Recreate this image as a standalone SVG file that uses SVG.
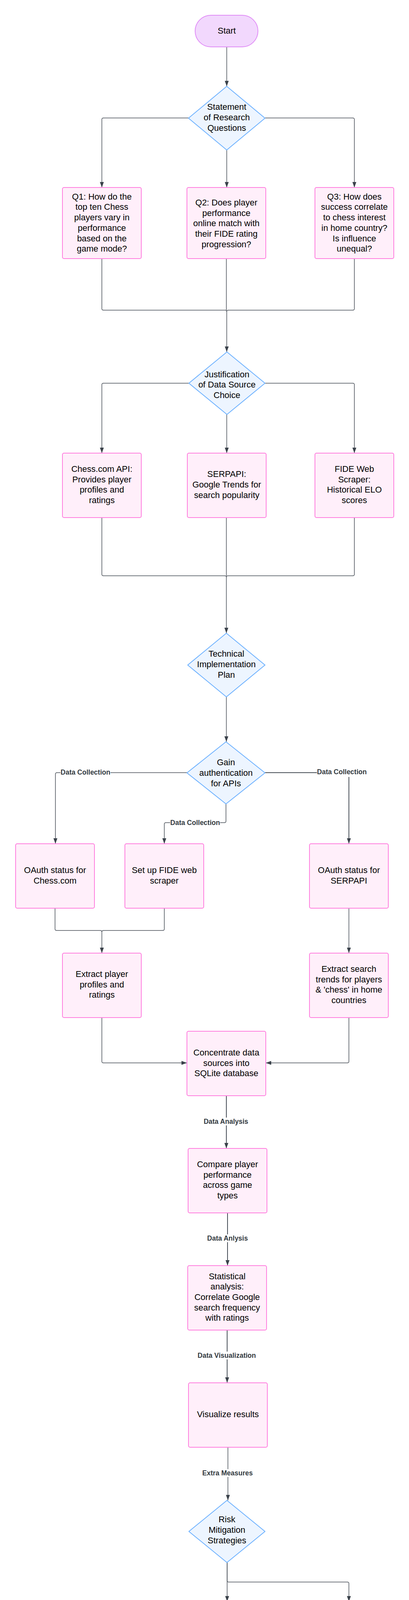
<svg xmlns="http://www.w3.org/2000/svg" width="1048" height="5169" viewBox="0 0 1048 5169">
<style>
.box{fill:#ffeffa;stroke:#ff80df;stroke-width:2}
.dia{fill:#edf5ff;stroke:#6cb1ff;stroke-width:2;stroke-linejoin:round}
.term{fill:#f2d8fd;stroke:#e08ef6;stroke-width:2}
.t{font-family:"Liberation Sans",Arial,sans-serif;font-size:22px;fill:#000;text-anchor:middle}
.c{fill:none;stroke:#474e57;stroke-width:1.5;stroke-linejoin:round}
.lb{font-family:"Liberation Sans",Arial,sans-serif;font-size:17.5px;font-weight:bold;fill:#333a40;text-anchor:middle}
.lbg{fill:#ffffff}
</style>
<defs>
<marker id="ah" viewBox="0 0 14 10" refX="14" refY="5" markerWidth="14" markerHeight="10" markerUnits="userSpaceOnUse" orient="auto">
<path d="M0,0 L14,5 L0,10 z" fill="#3a414a"/>
</marker>
</defs>
<rect width="1048" height="5169" fill="#ffffff"/>

<g id="connectors">
<path class="c" d="M581,120 V221" marker-end="url(#ah)"/>
<path class="c" d="M483,302 H265 Q261,302 261,306 V480" marker-end="url(#ah)"/>
<path class="c" d="M581,384 V480" marker-end="url(#ah)"/>
<path class="c" d="M679,302 H904 Q908,302 908,306 V480" marker-end="url(#ah)"/>
<path class="c" d="M261,662 V790 Q261,794 265,794 H577 Q581,794 581,798 V901" marker-end="url(#ah)"/>
<path class="c" d="M580,662 V794"/>
<path class="c" d="M908,662 V790 Q908,794 904,794 H585 Q581,794 581,798"/>
<path class="c" d="M484,981 H265 Q261,981 261,985 V1160" marker-end="url(#ah)"/>
<path class="c" d="M581,1061 V1160" marker-end="url(#ah)"/>
<path class="c" d="M679,981 H904 Q908,981 908,985 V1160" marker-end="url(#ah)"/>
<path class="c" d="M261,1325 V1470 Q261,1474 265,1474 H576 Q580,1474 580,1478 V1621" marker-end="url(#ah)"/>
<path class="c" d="M580,1325 V1474"/>
<path class="c" d="M908,1325 V1470 Q908,1474 904,1474 H584 Q580,1474 580,1478"/>
<path class="c" d="M580,1784 V1899" marker-end="url(#ah)"/>
<path class="c" d="M479,1978 H146 Q142,1978 142,1982 V2160" marker-end="url(#ah)"/>
<path class="c" d="M579,2058 V2102 Q579,2106 575,2106 H425 Q421,2106 421,2110 V2160" marker-end="url(#ah)"/>
<path class="c" d="M679,1978 H890 Q894,1978 894,1982 V2160" marker-end="url(#ah)" style="stroke-width:2"/>
<path class="c" d="M141,2325 V2378 Q141,2382 145,2382 H257 Q261,2382 261,2386 V2440" marker-end="url(#ah)"/>
<path class="c" d="M421,2325 V2378 Q421,2382 417,2382 H265 Q261,2382 261,2386"/>
<path class="c" d="M894,2325 V2440" marker-end="url(#ah)"/>
<path class="c" d="M261,2605 V2717 Q261,2721 265,2721 H479" marker-end="url(#ah)"/>
<path class="c" d="M894,2605 V2717 Q894,2721 890,2721 H681" marker-end="url(#ah)"/>
<path class="c" d="M580,2805 V2940" marker-end="url(#ah)" style="stroke-width:2"/>
<path class="c" d="M583,3105 V3240" marker-end="url(#ah)" style="stroke-width:2"/>
<path class="c" d="M582,3405 V3540" marker-end="url(#ah)" style="stroke-width:2"/>
<path class="c" d="M584,3705 V3841" marker-end="url(#ah)"/>
<path class="c" d="M582,4000 V4100" marker-end="url(#ah)"/>
<path class="c" d="M582,4000 V4046 Q582,4050 586,4050 H890 Q894,4050 894,4054 V4100" marker-end="url(#ah)"/>
<path class="c" d="M582,4265 V4460" marker-end="url(#ah)"/>
<path class="c" d="M894,4265 V4346 Q894,4350 890,4350 H586 Q582,4350 582,4354"/>
<path class="c" d="M582,4625 V4740" marker-end="url(#ah)"/>
<path class="c" d="M584,4905 V5019" marker-end="url(#ah)"/>

<rect class="lbg" x="155" y="1968" width="128" height="20"/>
<text class="lb" x="219" y="1983">Data Collection</text>
<rect class="lbg" x="436" y="2097" width="128" height="20"/>
<text class="lb" x="500" y="2112">Data Collection</text>
<rect class="lbg" x="812" y="1967" width="128" height="22"/>
<text class="lb" x="876" y="1982">Data Collection</text>
<rect class="lbg" x="521" y="2861" width="116" height="20"/>
<text class="lb" x="579" y="2877">Data Analysis</text>
<rect class="lbg" x="530" y="3160" width="106" height="20"/>
<text class="lb" x="583" y="3176">Data Anlysis</text>
<rect class="lbg" x="506" y="3460" width="151" height="20"/>
<text class="lb" x="581" y="3476">Data Visualization</text>
<rect class="lbg" x="518" y="3761" width="130" height="20"/>
<text class="lb" x="583" y="3777">Extra Measures</text>
</g>

<g id="start"><rect class="term" x="500" y="39" width="161" height="81" rx="40.5"/><text class="t" x="581" y="85.5">Start</text></g>

<g id="statement"><polygon class="dia" points="581,221 679,302.5 581,384 483,302.5"/>
<text class="t" x="581" y="281"><tspan x="581">Statement</tspan><tspan x="581" dy="26.8">of Research</tspan><tspan x="581" dy="26.8">Questions</tspan></text></g>

<g id="q1"><rect class="box" x="160" y="480" width="202" height="182" rx="4"/>
<text class="t" x="261" y="510.7"><tspan x="261">Q1: How do the</tspan><tspan x="261" dy="26.7">top ten Chess</tspan><tspan x="261" dy="26.7">players vary in</tspan><tspan x="261" dy="26.7">performance</tspan><tspan x="261" dy="26.7">based on the</tspan><tspan x="261" dy="26.7">game mode?</tspan></text></g>

<g id="q2"><rect class="box" x="479" y="480" width="202" height="182" rx="4"/>
<text class="t" x="580" y="525.9"><tspan x="580">Q2: Does player</tspan><tspan x="580" dy="26.7">performance</tspan><tspan x="580" dy="26.7">online match with</tspan><tspan x="580" dy="26.7">their FIDE rating</tspan><tspan x="580" dy="26.7">progression?</tspan></text></g>

<g id="q3"><rect class="box" x="807" y="480" width="202" height="182" rx="4"/>
<text class="t" x="908" y="510.7"><tspan x="908">Q3: How does</tspan><tspan x="908" dy="26.7">success correlate</tspan><tspan x="908" dy="26.7">to chess interest</tspan><tspan x="908" dy="26.7">in home country?</tspan><tspan x="908" dy="26.7">Is influence</tspan><tspan x="908" dy="26.7">unequal?</tspan></text></g>

<g id="justification"><polygon class="dia" points="581.5,901 679,981 581.5,1061 484,981"/>
<text class="t" x="581.5" y="965.6"><tspan x="581.5">Justification</tspan><tspan x="581.5" dy="26.7">of Data Source</tspan><tspan x="581.5" dy="26.7">Choice</tspan></text></g>

<g id="chesscom-api"><rect class="box" x="160" y="1160" width="202" height="165" rx="4"/>
<text class="t" x="261" y="1208"><tspan x="261">Chess.com API:</tspan><tspan x="261" dy="26.7">Provides player</tspan><tspan x="261" dy="26.7">profiles and</tspan><tspan x="261" dy="26.7">ratings</tspan></text></g>

<g id="serpapi"><rect class="box" x="480" y="1160" width="202" height="165" rx="4"/>
<text class="t" x="581" y="1221.4"><tspan x="581">SERPAPI:</tspan><tspan x="581" dy="26.7">Google Trends for</tspan><tspan x="581" dy="26.7">search popularity</tspan></text></g>

<g id="fide-scraper"><rect class="box" x="807" y="1160" width="202" height="165" rx="4"/>
<text class="t" x="908" y="1208"><tspan x="908">FIDE Web</tspan><tspan x="908" dy="26.7">Scraper:</tspan><tspan x="908" dy="26.7">Historical ELO</tspan><tspan x="908" dy="26.7">scores</tspan></text></g>

<g id="technical"><polygon class="dia" points="580,1621 679,1702.5 580,1784 481,1702.5"/>
<text class="t" x="580" y="1681"><tspan x="580">Technical</tspan><tspan x="580" dy="26.8">Implementation</tspan><tspan x="580" dy="26.8">Plan</tspan></text></g>

<g id="gain-auth"><polygon class="dia" points="579,1899 679,1978.5 579,2058 479,1978.5"/>
<text class="t" x="579" y="1959"><tspan x="579">Gain</tspan><tspan x="579" dy="26.8">authentication</tspan><tspan x="579" dy="26.8">for APIs</tspan></text></g>

<g id="oauth-chess"><rect class="box" x="40" y="2160" width="202" height="165" rx="4"/>
<text class="t" x="141" y="2234.8"><tspan x="141">OAuth status for</tspan><tspan x="141" dy="26.7">Chess.com</tspan></text></g>

<g id="setup-fide"><rect class="box" x="320" y="2160" width="202" height="165" rx="4"/>
<text class="t" x="421" y="2234.8"><tspan x="421">Set up FIDE web</tspan><tspan x="421" dy="26.7">scraper</tspan></text></g>

<g id="oauth-serp"><rect class="box" x="793" y="2160" width="202" height="165" rx="4"/>
<text class="t" x="894" y="2234.8"><tspan x="894">OAuth status for</tspan><tspan x="894" dy="26.7">SERPAPI</tspan></text></g>

<g id="extract-player"><rect class="box" x="160" y="2440" width="202" height="165" rx="4"/>
<text class="t" x="261" y="2501"><tspan x="261">Extract player</tspan><tspan x="261" dy="26.7">profiles and</tspan><tspan x="261" dy="26.7">ratings</tspan></text></g>

<g id="extract-search"><rect class="box" x="793" y="2440" width="202" height="165" rx="4"/>
<text class="t" x="894" y="2488"><tspan x="894">Extract search</tspan><tspan x="894" dy="26.7">trends for players</tspan><tspan x="894" dy="26.7">&amp; 'chess' in home</tspan><tspan x="894" dy="26.7">countries</tspan></text></g>

<g id="concentrate"><rect class="box" x="479" y="2640" width="202" height="165" rx="4"/>
<text class="t" x="580" y="2701.8"><tspan x="580">Concentrate data</tspan><tspan x="580" dy="26.7">sources into</tspan><tspan x="580" dy="26.7">SQLite database</tspan></text></g>

<g id="compare"><rect class="box" x="482" y="2940" width="202" height="165" rx="4"/>
<text class="t" x="583" y="2988"><tspan x="583">Compare player</tspan><tspan x="583" dy="26.7">performance</tspan><tspan x="583" dy="26.7">across game</tspan><tspan x="583" dy="26.7">types</tspan></text></g>

<g id="statistical"><rect class="box" x="481" y="3240" width="202" height="165" rx="4"/>
<text class="t" x="582" y="3274.5"><tspan x="582">Statistical</tspan><tspan x="582" dy="26.7">analysis:</tspan><tspan x="582" dy="26.7">Correlate Google</tspan><tspan x="582" dy="26.7">search frequency</tspan><tspan x="582" dy="26.7">with ratings</tspan></text></g>

<g id="visualize"><rect class="box" x="483" y="3540" width="202" height="165" rx="4"/>
<text class="t" x="584" y="3628">Visualize results</text></g>

<g id="risk"><polygon class="dia" points="581.5,3841 679,3920.5 581.5,4000 484,3920.5"/>
<text class="t" x="581.5" y="3897"><tspan x="581.5">Risk</tspan><tspan x="581.5" dy="26.8">Mitigation</tspan><tspan x="581.5" dy="26.8">Strategies</tspan></text></g>

<g id="chess-access"><rect class="box" x="481" y="4100" width="202" height="165" rx="4"/>
<text class="t" x="582" y="4148.6"><tspan x="582">Chess.com API</tspan><tspan x="582" dy="26.7">access &amp; wait</tspan><tspan x="582" dy="26.7">times to prevent</tspan><tspan x="582" dy="26.7">errors</tspan></text></g>

<g id="backup"><rect class="box" x="793" y="4100" width="202" height="165" rx="4"/>
<text class="t" x="894" y="4148.6"><tspan x="894">Backup: Use</tspan><tspan x="894" dy="26.7">Lichess API or</tspan><tspan x="894" dy="26.7">Reddit API for</tspan><tspan x="894" dy="26.7">financial analysis</tspan></text></g>

<g id="further"><rect class="box" x="481" y="4460" width="202" height="165" rx="4"/>
<text class="t" x="582" y="4535"><tspan x="582">Further Potential</tspan><tspan x="582" dy="26.7">Questions</tspan></text></g>

<g id="q4"><rect class="box" x="483" y="4740" width="202" height="165" rx="4"/>
<text class="t" x="584" y="4788"><tspan x="584">Q4: Does</tspan><tspan x="584" dy="26.7">streaming affect</tspan><tspan x="584" dy="26.7">daily chess</tspan><tspan x="584" dy="26.7">rating?</tspan></text></g>

<g id="end"><rect class="term" x="480" y="5019" width="199" height="109" rx="54.5"/><text class="t" x="579.5" y="5080.6">End</text></g>
</svg>
